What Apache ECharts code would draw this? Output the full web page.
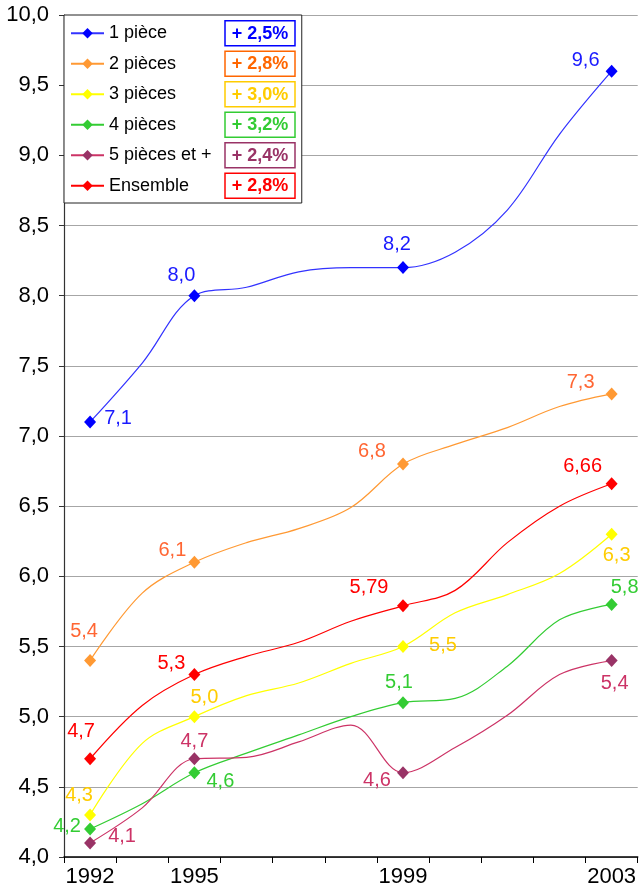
<!DOCTYPE html>
<html>
<head>
<meta charset="utf-8">
<script src="https://cdn.jsdelivr.net/npm/echarts@6/dist/echarts.min.js"></script>
<style>
  html, body { margin: 0; padding: 0; background: #fff; }
  #chart { width: 639px; height: 890px; }
</style>
</head>
<body>
<div id="chart"></div>
<script>
// Periods on the horizontal axis (one column each) and the years that get a label
const periods = ['1992', '1993', '1995', '1996', '1997', '1998', '1999', '2000', '2001', '2002', '2003'];
const yearLabels = ['1992', '1995', '1999', '2003'];
// Columns that carry a marker and a value label
const markedIdx = [0, 2, 6, 10];

const seriesNames = ['1 pièce', '2 pièces', '3 pièces', '4 pièces', '5 pièces et +', 'Ensemble'];

// Values per dwelling size
const onePiece   = [7.1, 7.52, 8.0, 8.06, 8.17, 8.2, 8.2, 8.31, 8.61, 9.15, 9.6];
const twoPieces  = [5.4, 5.88, 6.1, 6.24, 6.34, 6.49, 6.8, 6.94, 7.06, 7.21, 7.3];
const threePieces = [4.3, 4.81, 5.0, 5.15, 5.24, 5.38, 5.5, 5.74, 5.87, 6.02, 6.3];
const fourPieces = [4.2, 4.38, 4.6, 4.74, 4.87, 5.0, 5.1, 5.13, 5.36, 5.69, 5.8];
const fivePlus   = [4.1, 4.35, 4.7, 4.71, 4.82, 4.94, 4.6, 4.78, 5.01, 5.3, 5.4];
const overall    = [4.7, 5.08, 5.3, 5.43, 5.53, 5.68, 5.79, 5.9, 6.24, 6.5, 6.66];

// Average yearly growth shown next to each legend entry
const growthRates = ['+ 2,5%', '+ 2,8%', '+ 3,0%', '+ 3,2%', '+ 2,4%', '+ 2,8%'];

// Y axis range
const yMin = 4, yMax = 10, yStep = 0.5;

const FONT = 'Liberation Sans, Arial, Helvetica, sans-serif';

// Look of each series: line, marker, label and legend box colours, label offsets (px)
const looks = [
  { line: '#3333ff', marker: '#0000ff', label: '#1a1aff', box: '#0000ff',
    offsets: [[28, -3], [-13, -20], [-6, -23], [-26, -11]] },
  { line: '#ff9933', marker: '#ff9933', label: '#ff6633', box: '#ff6600',
    offsets: [[-6, -29], [-22, -12], [-31, -13], [-31, -11]] },
  { line: '#ffff00', marker: '#ffff00', label: '#ffcc00', box: '#ffcc00',
    offsets: [[-11, -19], [10, -19], [40, -1], [5, 21]] },
  { line: '#33cc33', marker: '#33cc33', label: '#33cc33', box: '#33cc33',
    offsets: [[-23, -2], [26, 9], [-4, -20], [13, -17]] },
  { line: '#cc3366', marker: '#993366', label: '#cc3366', box: '#993366',
    offsets: [[32, -6], [0, -17], [-26, 8], [3, 23]] },
  { line: '#ff0000', marker: '#ff0000', label: '#ff0000', box: '#ff0000',
    offsets: [[-9, -27], [-23, -11], [-34, -18], [-29, -17]] }
];

const allValues = [onePiece, twoPieces, threePieces, fourPieces, fivePlus, overall];

function frNumber(v) {
  const oneDec = Math.abs(Math.round(v * 10) - v * 10) < 1e-9;
  return (oneDec ? v.toFixed(1) : v.toFixed(2)).replace('.', ',');
}

const series = seriesNames.map((name, s) => {
  const look = looks[s];
  const data = allValues[s].map((v, i) => {
    const k = markedIdx.indexOf(i);
    if (k < 0) return { value: v, symbol: 'none', label: { show: false } };
    return { value: v, label: { show: true, offset: look.offsets[k] } };
  });
  return {
    name,
    type: 'line',
    data,
    smooth: 0.35,
    symbol: 'diamond',
    symbolSize: [12, 13],
    showAllSymbol: true,
    lineStyle: { color: look.line, width: 1.2 },
    itemStyle: { color: look.marker },
    label: {
      show: false,
      position: 'inside',
      color: look.label,
      fontSize: 20,
      fontFamily: FONT,
      formatter: p => frNumber(p.value)
    },
    emphasis: { disabled: true },
    animation: false
  };
});

const rich = { n: { width: 116, fontSize: 18, fontFamily: FONT, color: '#000', lineHeight: 21 } };
looks.forEach((look, i) => {
  rich['g' + i] = {
    width: 70, align: 'center', fontSize: 18, fontWeight: 'bold', fontFamily: FONT,
    color: look.box, borderColor: look.box, borderWidth: 1.5,
    padding: [4, 0, 3, 0], lineHeight: 21
  };
});

const chart = echarts.init(document.getElementById('chart'), null, { renderer: 'canvas' });
chart.setOption({
  backgroundColor: '#fff',
  animation: false,
  grid: { left: 64, top: 15, width: 576, height: 842, containLabel: false },
  legend: {
    orient: 'vertical',
    left: 64, top: 15,
    padding: [5, 6, 4, 6],
    itemGap: 4,
    itemWidth: 33,
    itemHeight: 13,
    selectedMode: false,
    backgroundColor: '#fff',
    borderColor: '#222',
    borderWidth: 1,
    data: seriesNames,
    textStyle: { fontSize: 18, fontFamily: FONT, color: '#000', rich },
    formatter: name => {
      const i = seriesNames.indexOf(name);
      return '{n|' + name + '}{g' + i + '|' + growthRates[i] + '}';
    }
  },
  xAxis: {
    type: 'category',
    data: periods,
    boundaryGap: true,
    axisLine: { lineStyle: { color: '#000', width: 1.5 } },
    axisTick: { show: true, interval: 0, length: 6, lineStyle: { color: '#000' } },
    axisLabel: {
      interval: 0,
      margin: 9,
      fontSize: 22,
      fontFamily: FONT,
      color: '#000',
      formatter: v => (yearLabels.indexOf(v) >= 0 ? v : '')
    },
    splitLine: { show: false }
  },
  yAxis: {
    type: 'value',
    min: yMin, max: yMax, interval: yStep,
    axisLine: { show: true, lineStyle: { color: '#333', width: 1.2 } },
    axisTick: { show: true, length: 5, lineStyle: { color: '#333' } },
    axisLabel: {
      margin: 15,
      fontSize: 22,
      fontFamily: FONT,
      color: '#000',
      formatter: v => v.toFixed(1).replace('.', ',')
    },
    splitLine: { show: true, lineStyle: { color: '#a6a6a6', width: 1.2 } }
  },
  series
});
</script>
</body>
</html>
